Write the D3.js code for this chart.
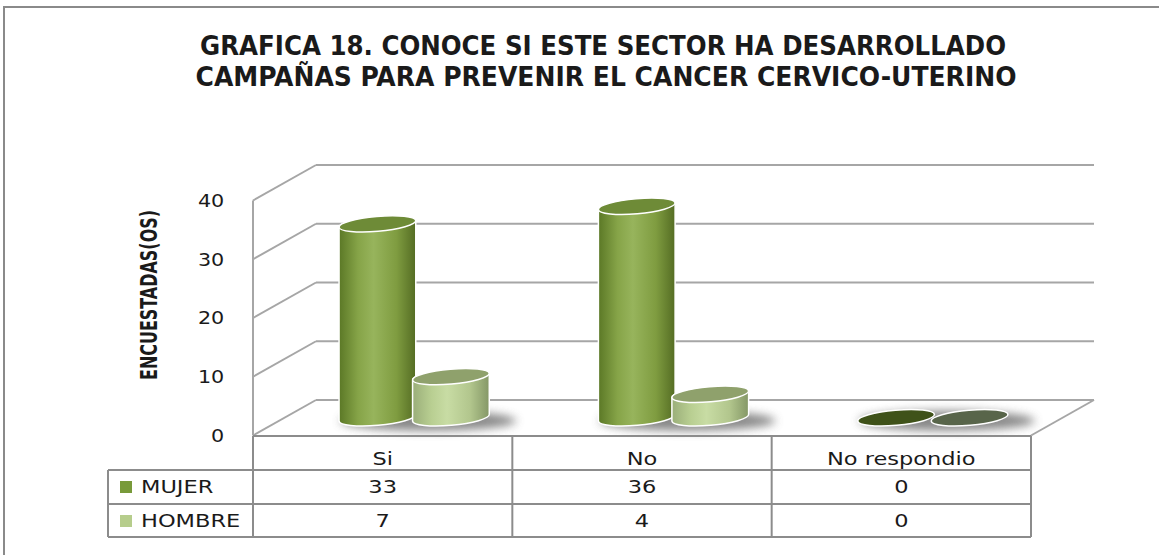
<!DOCTYPE html>
<html>
<head>
<meta charset="utf-8">
<script src="https://cdn.jsdelivr.net/npm/d3@7"></script>
<style>
  body { margin: 0; background: #fff; }
  svg { display: block; }
</style>
</head>
<body>
<div id="chart"></div>
<script>
// data
var categories = ["Si", "No", "No respondio"];
var seriesNames = ["MUJER", "HOMBRE"];
var mujer = [33, 36, 0];
var hombre = [7, 4, 0];
var yTicks = [0, 10, 20, 30, 40];
var titleLines = ["GRAFICA 18. CONOCE SI ESTE SECTOR HA DESARROLLADO",
                  "CAMPAÑAS PARA PREVENIR EL CANCER CERVICO-UTERINO"];

var W = 1159, H = 555;
var svg = d3.select("#chart").append("svg")
    .attr("width", W).attr("height", H);

var defs = svg.append("defs");

// 3d box geometry
var frontLeft = 253, frontRight = 1031;
var depthX = 63, depthY = -35.5;

var y = d3.scaleLinear().domain([0, 40]).range([435.5, 200.5]);
var x = d3.scaleBand().domain(categories).range([frontLeft, frontRight]).padding(0);
var xs = d3.scaleBand().domain(seriesNames).range([-73.5, 73.5]).padding(0);

var gridCol = "#a6a6a6", tableCol = "#8c8c8c";
var narrowBold = "'DejaVu Sans Condensed', 'Liberation Sans Narrow', sans-serif";
var bodyFont = "'DejaVu Sans', Verdana, sans-serif";
var stretch = 1.25; // the original text is drawn wider than the font

// text that is stretched horizontally around its anchor point
function wideText(g, tx, ty, s, anchor) {
  return g.append("text")
    .attr("transform", "translate(" + tx + "," + ty + ") scale(" + stretch + ",1)")
    .attr("text-anchor", anchor || "middle")
    .text(s);
}

// outer frame (right and bottom are cut off)
svg.append("rect")
  .attr("x", 4).attr("y", 7).attr("width", 1200).attr("height", 600)
  .attr("fill", "none").attr("stroke", "#8a8a8a").attr("stroke-width", 2);

// title
var title = svg.append("g").attr("font-family", narrowBold)
  .attr("font-weight", "bold").attr("font-size", 26).attr("fill", "#1a1a1a");
title.append("text").attr("x", 603).attr("y", 55).attr("text-anchor", "middle")
  .attr("textLength", 806).attr("lengthAdjust", "spacingAndGlyphs").text(titleLines[0]);
title.append("text").attr("x", 606).attr("y", 86).attr("text-anchor", "middle")
  .attr("textLength", 821).attr("lengthAdjust", "spacingAndGlyphs").text(titleLines[1]);

// walls and gridlines
var walls = svg.append("g").attr("stroke", gridCol).attr("stroke-width", 2).attr("fill", "none");
yTicks.forEach(function(t) {
  walls.append("line")
    .attr("x1", frontLeft).attr("y1", y(t))
    .attr("x2", frontLeft + depthX).attr("y2", y(t) + depthY);
  walls.append("line")
    .attr("x1", frontLeft + depthX).attr("y1", y(t) + depthY)
    .attr("x2", frontRight + depthX).attr("y2", y(t) + depthY);
});
walls.append("line")
  .attr("x1", frontLeft).attr("y1", y(40)).attr("x2", frontLeft).attr("y2", y(0));
// floor right edge
walls.append("line")
  .attr("x1", frontRight).attr("y1", y(0)).attr("x2", frontRight + depthX).attr("y2", y(0) + depthY);

// y axis labels
var yAxis = svg.append("g")
  .attr("transform", "translate(230,0)")
  .call(d3.axisLeft(y).tickValues(yTicks).tickSize(0).tickPadding(5));
yAxis.select(".domain").remove();
yAxis.selectAll("text")
  .attr("font-family", bodyFont)
  .attr("font-size", 18).attr("fill", "#1a1a1a")
  .attr("transform", "scale(1.15,1)");

svg.append("text")
  .attr("transform", "translate(157,295) rotate(-90)")
  .attr("text-anchor", "middle")
  .attr("font-family", narrowBold)
  .attr("font-weight", "bold").attr("font-size", 23)
  .attr("textLength", 170).attr("lengthAdjust", "spacingAndGlyphs")
  .attr("fill", "#1a1a1a")
  .text("ENCUESTADAS(OS)");

// gradients
var styles = {
  MUJER:  { body: ["#5b7826", "#86a448", "#97b45c", "#7f9c40", "#546c23"], top: "#6e8b37", flat: "#3f5219", legend: "#789a3a" },
  HOMBRE: { body: ["#9aae79", "#b9cf92", "#c8dca4", "#b2c68d", "#849766"], top: "#8fa16c", flat: "#58654a", legend: "#b6cd8c" }
};
seriesNames.forEach(function(s) {
  var g = defs.append("linearGradient").attr("id", "grad-" + s)
    .attr("x1", 0).attr("x2", 1).attr("y1", 0).attr("y2", 0);
  var offs = [0, 0.25, 0.45, 0.75, 1];
  styles[s].body.forEach(function(c, i) {
    g.append("stop").attr("offset", offs[i]).attr("stop-color", c);
  });
});
defs.append("filter").attr("id", "blur")
  .attr("x", "-50%").attr("y", "-100%").attr("width", "200%").attr("height", "300%")
  .append("feGaussianBlur").attr("stdDeviation", 5);

// bars (cylinders at middle depth)
var rx = 38.5, ry = 7.5, tilt = -5;
var rad = tilt * Math.PI / 180;
var ex = rx * Math.cos(rad), ey = rx * Math.sin(rad);

var barData = [];
categories.forEach(function(c, i) {
  barData.push({ cat: c, series: "MUJER", value: mujer[i] });
  barData.push({ cat: c, series: "HOMBRE", value: hombre[i] });
});

var bars = svg.append("g");

// shadows first
categories.forEach(function(c) {
  var cx = x(c) + x.bandwidth() / 2 + depthX / 2;
  var cy = y(0) + depthY / 2;
  bars.append("ellipse")
    .attr("cx", cx + 14).attr("cy", cy + 3)
    .attr("rx", 88).attr("ry", 10)
    .attr("fill", "#6a6a6a").attr("opacity", 0.8)
    .attr("filter", "url(#blur)");
});

barData.forEach(function(d) {
  var cx = x(d.cat) + x.bandwidth() / 2 + depthX / 2 + xs(d.series) + xs.bandwidth() / 2;
  var yb = y(0) + depthY / 2;
  var yt = y(d.value) + depthY / 2;
  var st = styles[d.series];
  var g = bars.append("g");
  if (d.value > 0) {
    var p = "M" + (cx - ex) + "," + (yt - ey) +
      "L" + (cx - ex) + "," + (yb - ey) +
      "A" + rx + "," + ry + " " + tilt + " 0 0 " + (cx + ex) + "," + (yb + ey) +
      "L" + (cx + ex) + "," + (yt + ey) +
      "A" + rx + "," + ry + " " + tilt + " 0 0 " + (cx - ex) + "," + (yt - ey) + "Z";
    g.append("path").attr("d", p)
      .attr("fill", "url(#grad-" + d.series + ")")
      .attr("stroke", "#fff").attr("stroke-width", 1.5);
  }
  g.append("ellipse")
    .attr("cx", cx).attr("cy", yt).attr("rx", rx).attr("ry", ry)
    .attr("transform", "rotate(" + tilt + "," + cx + "," + yt + ")")
    .attr("fill", d.value > 0 ? st.top : st.flat)
    .attr("stroke", "#fff").attr("stroke-width", 1.5);
});

// data table
var rowTop = [436, 470, 504], rowBot = 537, legendLeft = 108;
var table = svg.append("g").attr("stroke", tableCol).attr("stroke-width", 2).attr("fill", "none");
table.append("line").attr("x1", frontLeft).attr("x2", frontRight).attr("y1", rowTop[0]).attr("y2", rowTop[0]);
table.append("line").attr("x1", legendLeft).attr("x2", frontRight).attr("y1", rowTop[1]).attr("y2", rowTop[1]);
table.append("line").attr("x1", legendLeft).attr("x2", frontRight).attr("y1", rowTop[2]).attr("y2", rowTop[2]);
table.append("line").attr("x1", legendLeft).attr("x2", frontRight).attr("y1", rowBot).attr("y2", rowBot);
table.append("line").attr("x1", legendLeft).attr("x2", legendLeft).attr("y1", rowTop[1]).attr("y2", rowBot);
categories.forEach(function(c) {
  table.append("line").attr("x1", x(c)).attr("x2", x(c)).attr("y1", rowTop[0]).attr("y2", rowBot);
});
table.append("line").attr("x1", frontRight).attr("x2", frontRight).attr("y1", rowTop[0]).attr("y2", rowBot);

var txt = svg.append("g").attr("font-family", bodyFont)
  .attr("font-size", 18).attr("fill", "#1a1a1a");

categories.forEach(function(c) {
  wideText(txt, x(c) + x.bandwidth() / 2, 465, c);
});

var rows = [mujer, hombre];
var rowBase = [493, 527];
seriesNames.forEach(function(s, r) {
  txt.append("rect").attr("x", 120).attr("y", rowBase[r] - 12).attr("width", 12).attr("height", 12)
    .attr("fill", styles[s].legend);
  wideText(txt, 141, rowBase[r], s, "start");
  rows[r].forEach(function(v, i) {
    wideText(txt, x(categories[i]) + x.bandwidth() / 2, rowBase[r], v);
  });
});
</script>
</body>
</html>
